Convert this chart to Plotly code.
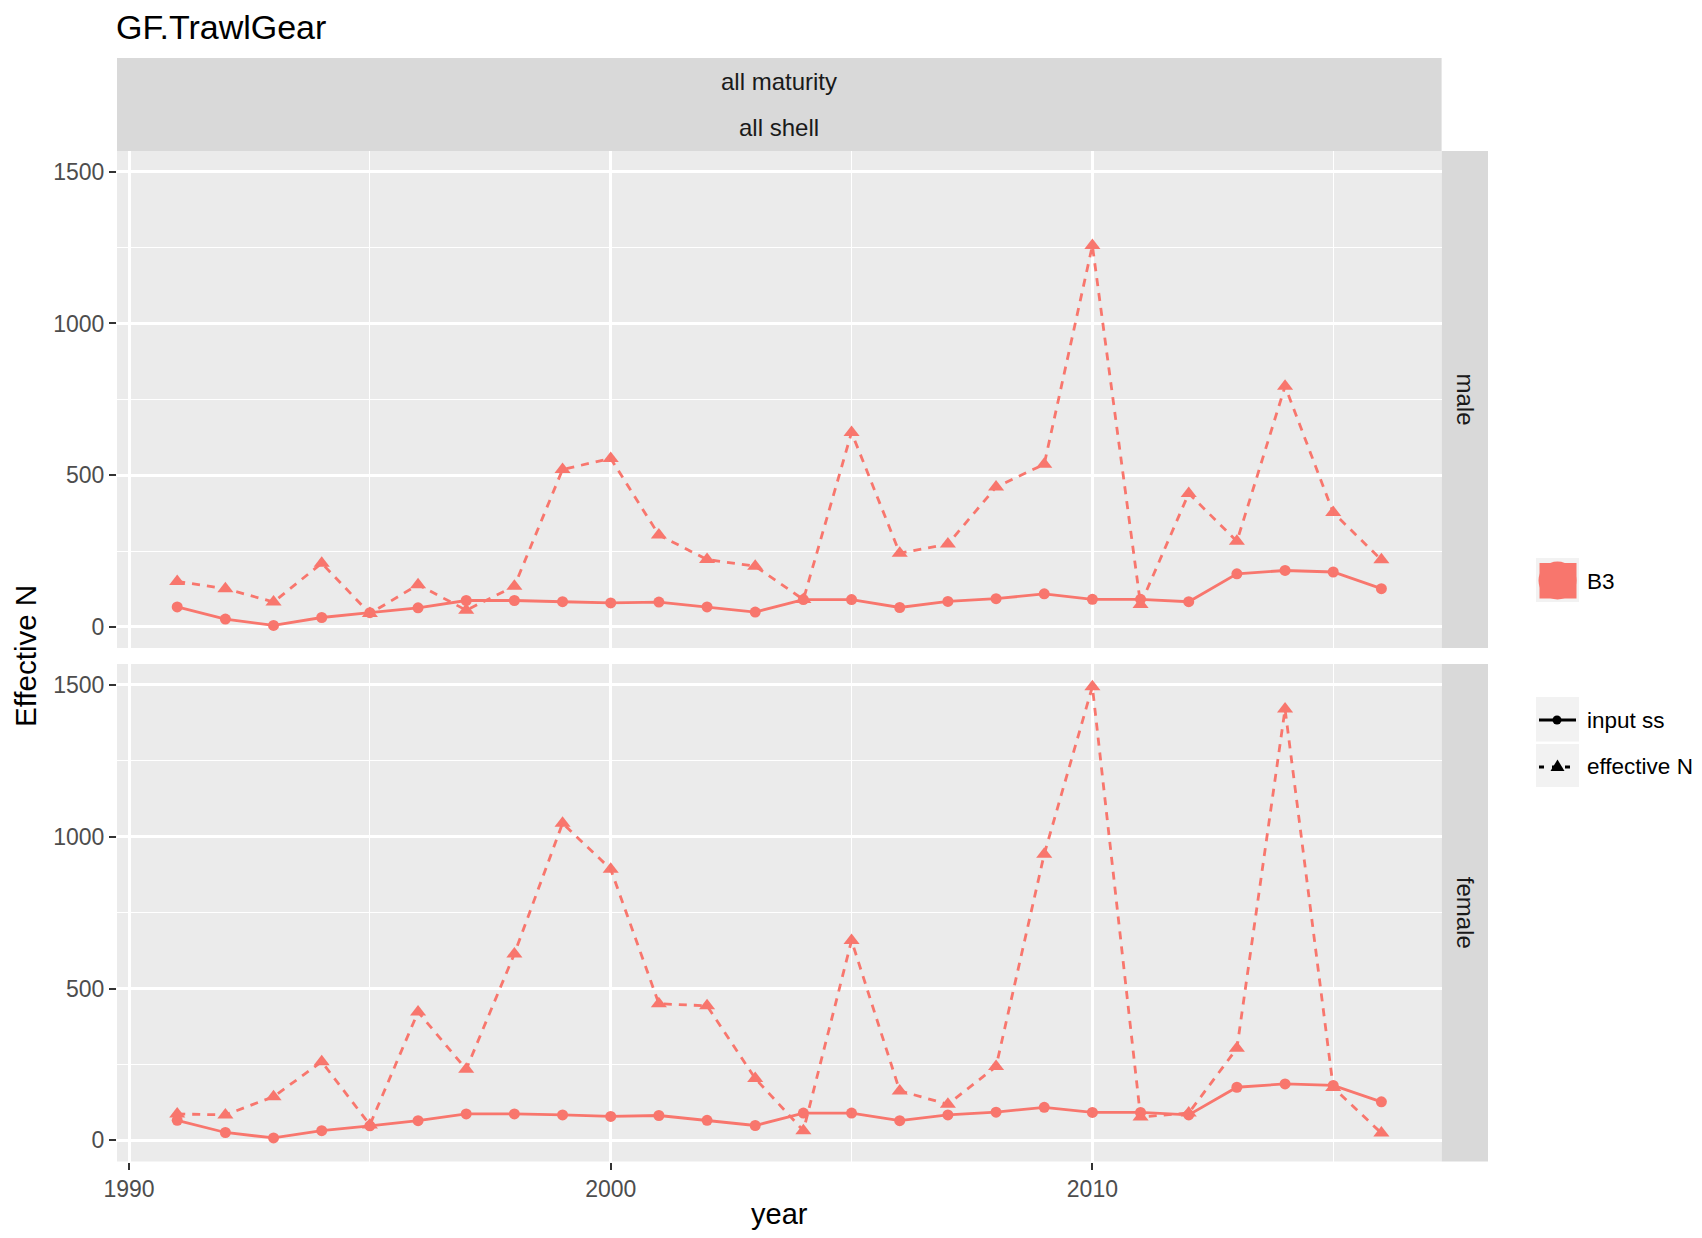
import plotly.graph_objects as go

# ---------------- data ----------------
years = list(range(1991, 2017))
input_ss_male = [66, 26, 5, 31, 47, 63, 87, 87, 83, 79, 82, 66, 49, 90, 90,
                 64, 84, 93, 109, 91, 91, 83, 175, 186, 181, 126]
eff_n_male = [150, 126, 82, 210, 44, 139, 55, 134, 519, 555, 303, 222, 200, 90, 641,
              243, 273, 461, 536, 1257, 74, 440, 282, 793, 377, 221]
input_ss_female = [66, 26, 8, 32, 48, 65, 87, 87, 84, 79, 82, 66, 49, 90, 90,
                   65, 84, 93, 109, 92, 92, 84, 175, 186, 181, 127]
eff_n_female = [87, 84, 144, 259, 51, 423, 234, 614, 1044, 893, 450, 443, 204, 32, 658,
                163, 119, 243, 942, 1494, 77, 90, 303, 1420, 174, 24]

x_ticks = [1990, 2000, 2010]
x_minor = [1995, 2005, 2015]
y_ticks = [0, 500, 1000, 1500]
y_minor = [250, 750, 1250]

title_text = "GF.TrawlGear"
strip_top = ["all maturity", "all shell"]
row_labels = ["male", "female"]
series_names = ["input ss", "effective N"]
fleet_name = "B3"

# ---------------- geometry helpers ----------------
# page body has an 8px margin: make the figure fit inside the window
OFF = 8
W, H = 1702 - 2 * OFF, 1238 - 2 * OFF
FONT = "Liberation Sans, Arial, Helvetica, sans-serif"
COL = "#F8766D"


def fx(px):
    return (px - OFF) / W


def fy(py):
    return 1 - (py - OFF) / H


PL, PR = 117, 1441.6
TOP_T, TOP_B = 151, 648
BOT_T, BOT_B = 664, 1161.5
x_dom = [fx(PL), fx(PR)]
top_dom = [fy(TOP_B), fy(TOP_T)]
bot_dom = [fy(BOT_B), fy(BOT_T)]

fig = go.Figure()

panels = [(input_ss_male, eff_n_male, "x2", "y2"),
          (input_ss_female, eff_n_female, "x", "y")]
for ss, en, xa, ya in panels:
    fig.add_trace(go.Scatter(
        x=years, y=en, mode="lines+markers", name=series_names[1],
        line=dict(color=COL, width=2.8, dash="8px,7px"),
        marker=dict(symbol="triangle-up", size=14, color=COL),
        xaxis=xa, yaxis=ya, showlegend=False, hoverinfo="x+y"))
    fig.add_trace(go.Scatter(
        x=years, y=ss, mode="lines+markers", name=series_names[0],
        line=dict(color=COL, width=2.8),
        marker=dict(symbol="circle", size=11, color=COL),
        xaxis=xa, yaxis=ya, showlegend=False, hoverinfo="x+y"))

tickfont = dict(family=FONT, size=23, color="#4D4D4D")
common_x = dict(range=[1989.75, 2017.25], tickmode="array", tickvals=x_ticks,
                showgrid=True, gridcolor="white", gridwidth=2.7, zeroline=False,
                showline=False, fixedrange=True, domain=x_dom, automargin=False,
                minor=dict(tickmode="array", tickvals=x_minor, showgrid=True,
                           gridcolor="white", gridwidth=1.35, ticks=""))
common_y = dict(range=[-69.5, 1568.5], tickmode="array", tickvals=y_ticks,
                ticks="outside", ticklen=7, tickwidth=2, tickcolor="#333333",
                tickfont=tickfont, showgrid=True, gridcolor="white", gridwidth=2.7,
                zeroline=False, showline=False, fixedrange=True, automargin=False,
                minor=dict(tickmode="array", tickvals=y_minor, showgrid=True,
                           gridcolor="white", gridwidth=1.35, ticks=""))

fig.update_layout(
    width=W, height=H, autosize=False,
    margin=dict(l=0, r=0, t=0, b=0, pad=0, autoexpand=False),
    paper_bgcolor="white", plot_bgcolor="#EBEBEB",
    showlegend=False,
    font=dict(family=FONT),
    xaxis=dict(**common_x, anchor="y", ticks="outside", ticklen=7, tickwidth=2,
               tickcolor="#333333", tickfont=tickfont),
    xaxis2=dict(**common_x, anchor="y2", showticklabels=False, ticks="", matches="x"),
    yaxis=dict(**common_y, domain=bot_dom, anchor="x"),
    yaxis2=dict(**common_y, domain=top_dom, anchor="x2"),
)

shapes = []
# strips
shapes.append(dict(type="rect", xref="paper", yref="paper", x0=fx(PL), x1=fx(PR),
                   y0=fy(TOP_T), y1=fy(58), fillcolor="#D9D9D9", line=dict(width=0), layer="below"))
for t, b in [(TOP_T, TOP_B), (BOT_T, BOT_B)]:
    shapes.append(dict(type="rect", xref="paper", yref="paper", x0=fx(PR), x1=fx(1488),
                       y0=fy(b), y1=fy(t), fillcolor="#D9D9D9", line=dict(width=0), layer="below"))

# legend keys (colour)
shapes.append(dict(type="rect", xref="paper", yref="paper", x0=fx(1536), x1=fx(1579),
                   y0=fy(602), y1=fy(558), fillcolor="#F2F2F2", line=dict(width=0)))
shapes.append(dict(type="rect", xref="paper", yref="paper", x0=fx(1539.5), x1=fx(1576.5),
                   y0=fy(598.5), y1=fy(563), fillcolor=COL, line=dict(width=0)))
shapes.append(dict(type="circle", xref="paper", yref="paper", x0=fx(1538.5), x1=fx(1576.5),
                   y0=fy(599.5), y1=fy(561.5), fillcolor=COL, line=dict(width=0)))
# legend keys (linetype)
shapes.append(dict(type="rect", xref="paper", yref="paper", x0=fx(1536), x1=fx(1579),
                   y0=fy(741.5), y1=fy(697), fillcolor="#F2F2F2", line=dict(width=0)))
shapes.append(dict(type="rect", xref="paper", yref="paper", x0=fx(1536), x1=fx(1579),
                   y0=fy(787), y1=fy(744), fillcolor="#F2F2F2", line=dict(width=0)))
shapes.append(dict(type="line", xref="paper", yref="paper", x0=fx(1539), x1=fx(1576),
                   y0=fy(720), y1=fy(720), line=dict(color="black", width=2.8)))
shapes.append(dict(type="circle", xref="paper", yref="paper", x0=fx(1552.5), x1=fx(1561.5),
                   y0=fy(724.5), y1=fy(715.5), fillcolor="black", line=dict(width=0)))
shapes.append(dict(type="line", xref="paper", yref="paper", x0=fx(1539), x1=fx(1576),
                   y0=fy(767), y1=fy(767), line=dict(color="black", width=2.8, dash="5px,8px")))
tri = [(1557.5, 759.5), (1564.5, 771), (1550.5, 771)]
path = "M {} {} L {} {} L {} {} Z".format(*[v for p in tri for v in (fx(p[0]), fy(p[1]))])
shapes.append(dict(type="path", xref="paper", yref="paper", path=path,
                   fillcolor="black", line=dict(width=0)))
fig.update_layout(shapes=shapes)

ann = []


def add_text(text, x, y, size, xanchor="center", angle=0, color="#1A1A1A"):
    ann.append(dict(text=text, x=fx(x), y=fy(y), xref="paper", yref="paper",
                    xanchor=xanchor, yanchor="middle", showarrow=False, textangle=angle,
                    font=dict(family=FONT, size=size, color=color)))


add_text(title_text, 114, 27, 34, xanchor="left", color="black")
add_text(strip_top[0], (PL + PR) / 2, 81.5, 24)
add_text(strip_top[1], (PL + PR) / 2, 128, 24)
add_text(row_labels[0], 1465, (TOP_T + TOP_B) / 2, 24, angle=90)
add_text(row_labels[1], 1465, (BOT_T + BOT_B) / 2, 24, angle=90)
add_text("Effective N", 25, 656, 29.5, angle=-90, color="black")
add_text("year", 779, 1214, 29, color="black")
add_text(fleet_name, 1585, 581, 22.5, xanchor="left", color="black")
add_text(series_names[0], 1585, 720, 22.5, xanchor="left", color="black")
add_text(series_names[1], 1585, 766, 22.5, xanchor="left", color="black")
fig.update_layout(annotations=ann)

fig.write_html("out.html")
